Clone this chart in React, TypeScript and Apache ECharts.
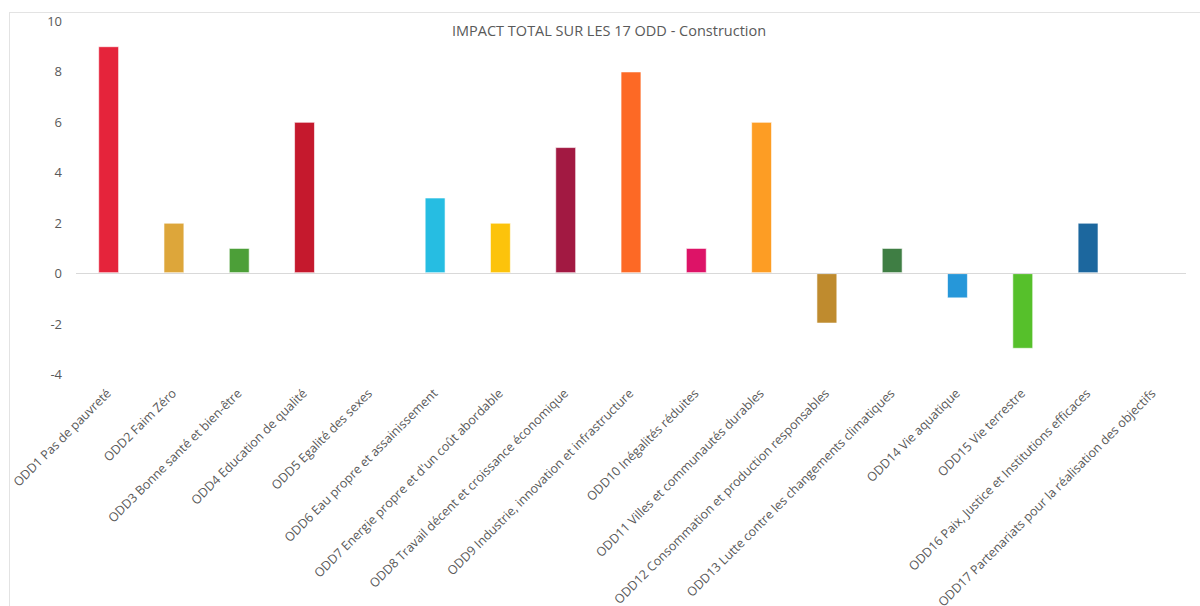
import React, { useEffect, useRef } from "react";
import * as echarts from "echarts";

const title = "IMPACT TOTAL SUR LES 17 ODD - Construction";

const categories = [
  "ODD1 Pas de pauvreté",
  "ODD2 Faim Zéro",
  "ODD3 Bonne santé et bien-être",
  "ODD4 Education de qualité",
  "ODD5 Egalité des sexes",
  "ODD6 Eau propre et assainissement",
  "ODD7 Energie propre et d'un coût abordable",
  "ODD8 Travail décent et croissance économique",
  "ODD9 Industrie, innovation et infrastructure",
  "ODD10 Inégalités réduites",
  "ODD11 Villes et communautés durables",
  "ODD12 Consommation et production responsables",
  "ODD13 Lutte contre les changements climatiques",
  "ODD14 Vie aquatique",
  "ODD15 Vie terrestre",
  "ODD16 Paix, Justice et Institutions efficaces",
  "ODD17 Partenariats pour la réalisation des objectifs",
];

const values = [9, 2, 1, 6, 0, 3, 2, 5, 8, 1, 6, -2, 1, -1, -3, 2, 0];

const barColors = [
  "#E5243B", "#DDA63A", "#4C9F38", "#C5192D", "#FF3A21", "#26BDE2",
  "#FCC30B", "#A21942", "#FD6925", "#DD1367", "#FD9D24", "#BF8B2E",
  "#3F7E44", "#2697D9", "#56C02B", "#1C679E", "#19486A",
];

const yTicks = { min: -4, max: 10, interval: 2 };

export default function App() {
  const ref = useRef<HTMLDivElement>(null);
  useEffect(() => {
    if (!ref.current) return;
    const chart = echarts.init(ref.current, undefined, { renderer: "svg" });
    const font = "'Open Sans', 'Noto Sans', sans-serif";
    chart.setOption({
      animation: false,
      backgroundColor: "#ffffff",
      title: {
        text: title,
        left: 447,
        top: 18,
        textStyle: { fontFamily: font, fontSize: 14.5, fontWeight: "normal", color: "#595959" },
      },
      graphic: [
        { type: "line", shape: { x1: 9, y1: 12.5, x2: 1200, y2: 12.5 }, style: { stroke: "#e3e3e3", lineWidth: 1 } },
        { type: "line", shape: { x1: 9.5, y1: 12, x2: 9.5, y2: 606 }, style: { stroke: "#e3e3e3", lineWidth: 1 } },
      ],
      grid: {
        left: 76,
        right: 14,
        top: 21,
        bottom: 232,
        containLabel: false,
        outerBoundsMode: "none",
      },
      xAxis: {
        type: "category",
        data: categories,
        axisLine: { show: false, onZero: false },
        axisTick: { show: false },
        axisLabel: {
          interval: 0,
          rotate: 45,
          margin: 17,
          fontFamily: font,
          fontSize: 12.5,
          color: "#595959",
        },
      },
      yAxis: {
        type: "value",
        min: yTicks.min,
        max: yTicks.max,
        interval: yTicks.interval,
        axisLine: { show: false },
        axisTick: { show: false },
        splitLine: { show: false },
        axisLabel: { fontFamily: font, fontSize: 13, color: "#595959", margin: 14 },
      },
      series: [
        {
          type: "bar",
          data: values.map((v, i) => ({
            value: v,
            itemStyle: { color: barColors[i], borderColor: "rgba(255,255,255,0.6)", borderWidth: 1 },
          })),
          barWidth: "32%",
          markLine: {
            silent: true,
            symbol: "none",
            label: { show: false },
            lineStyle: { color: "#d9d9d9", width: 1, type: "solid" },
            data: [{ yAxis: 0 }],
          },
        },
      ],
    });
    return () => chart.dispose();
  }, []);
  return (
    <div
      ref={ref}
      style={{ position: "fixed", left: 0, top: 0, width: 1200, height: 606, overflow: "hidden" }}
    />
  );
}
